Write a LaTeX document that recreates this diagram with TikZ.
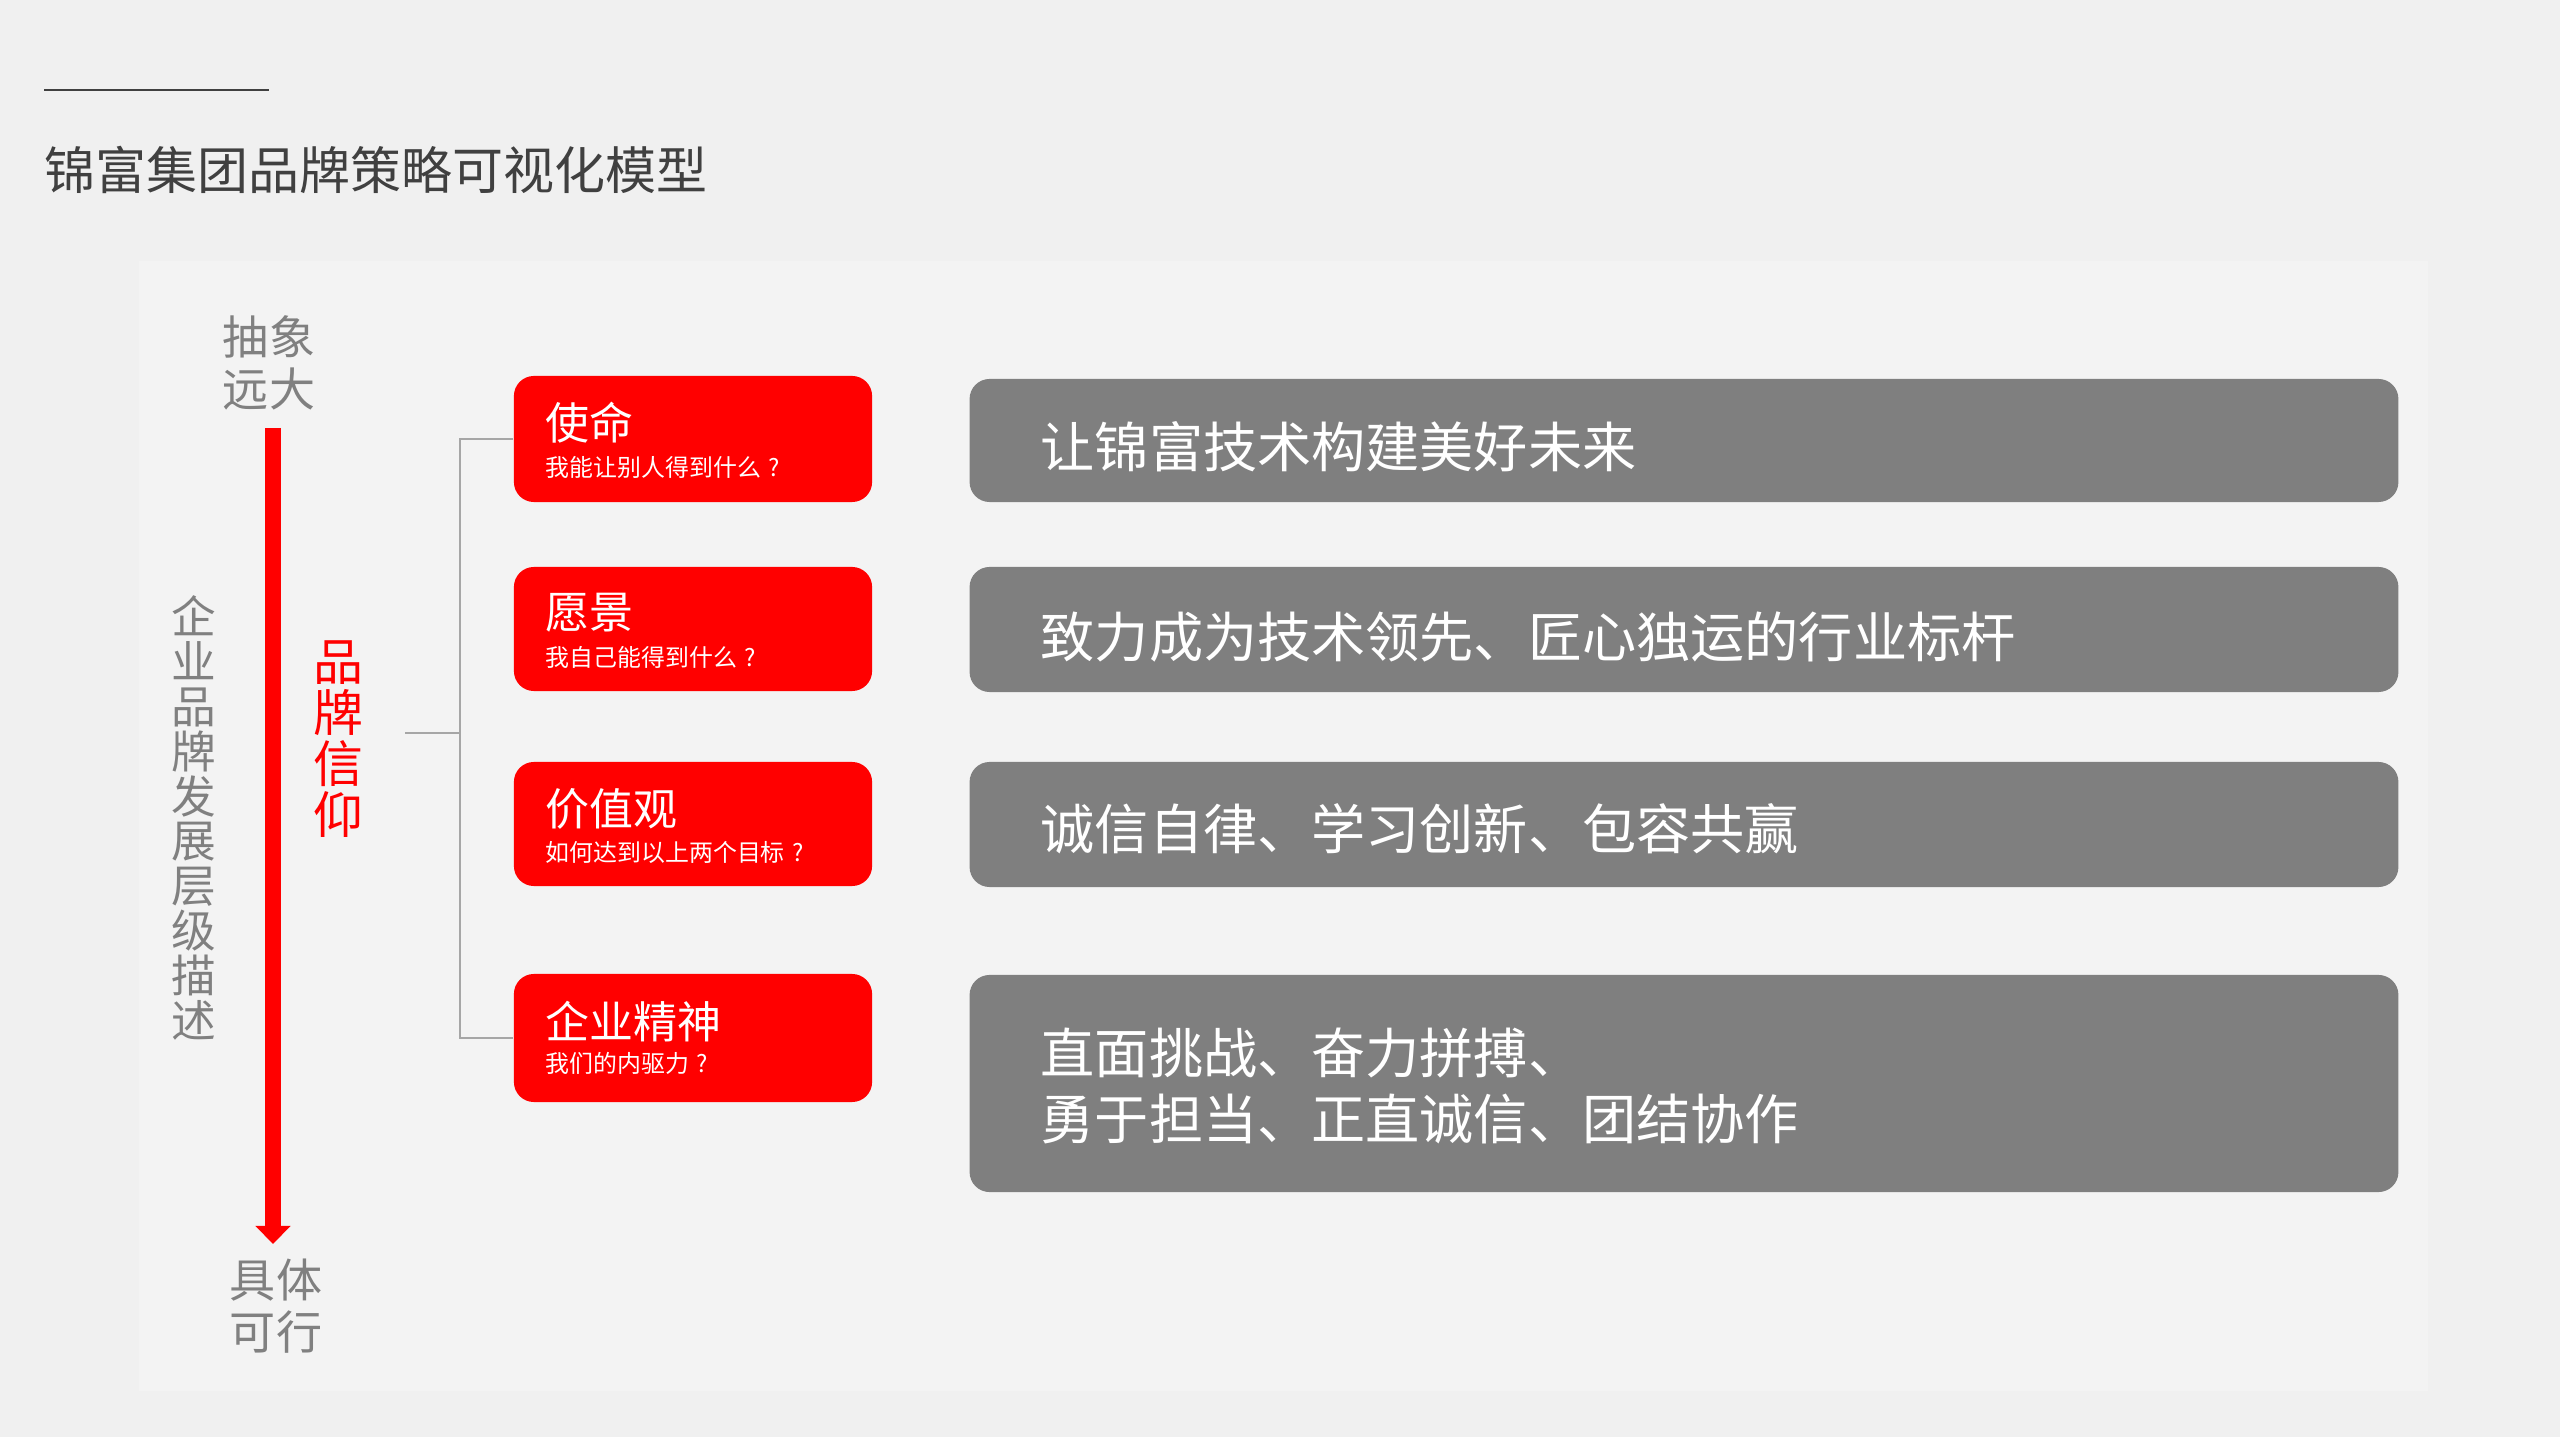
\documentclass[tikz,border=0pt]{standalone}
\usepackage{fontspec}
\setmainfont{Noto Sans CJK SC}
\usetikzlibrary{arrows.meta}
\definecolor{bgc}{HTML}{F0F0F0}
\definecolor{panelc}{HTML}{F3F3F3}
\definecolor{redc}{HTML}{FF0000}
\definecolor{greyc}{HTML}{7F7F7F}
\definecolor{labelc}{HTML}{808080}
\definecolor{titlec}{HTML}{404040}
\definecolor{linec}{HTML}{A6A6A6}
\newcommand{\fsz}[2]{\fontsize{#1}{#2}\selectfont}
\newcommand{\qm}{\kern0.3em?}
\begin{document}
\begin{tikzpicture}[x=0.01cm,y=-0.01cm,
  redbox/.style={rectangle, rounded corners=0.2cm, fill=redc, draw=none, minimum width=3.58cm, inner sep=0},
  greybox/.style={rectangle, rounded corners=0.2cm, fill=greyc, draw=none, minimum width=14.28cm, inner sep=0},
  rtitle/.style={anchor=west, inner sep=0, text=white, font=\fsz{12.5pt}{14pt}},
  rsub/.style={anchor=west, inner sep=0, text=white, font=\fsz{6.8pt}{8pt}},
  gtext/.style={anchor=west, inner sep=0, text=white, align=left, font=\fsz{15.4pt}{18.5pt}},
  sidelabel/.style={inner sep=0, text=labelc, align=center, font=\fsz{13.1pt}{14.8pt}},
  vlabel/.style={inner sep=0, text=labelc, align=center, font=\fsz{12.7pt}{12.75pt}},
  vred/.style={inner sep=0, text=redc, align=center, font=\fsz{14.2pt}{14.5pt}},
  brline/.style={draw=linec, line width=0.02cm},
  ttl/.style={anchor=west, inner sep=0, text=titlec, font=\fsz{14.5pt}{16pt}}
]
\useasboundingbox (0,0) rectangle (2560,1437);
\fill[bgc] (0,0) rectangle (2560,1437);
\fill[panelc] (139,261) rectangle (2428,1391);

% header
\coordinate (hl0) at (44,90);
\coordinate (hl1) at (269,90);
\draw[titlec, line width=0.02cm] (hl0) -- (hl1);
\node[ttl] (title) at (44,170) {锦富集团品牌策略可视化模型};

% left side
\node[sidelabel] (top) at (269,363) {抽象\\远大};
\node[sidelabel] (bot) at (276,1306) {具体\\可行};
\coordinate (a0) at (273,428);
\coordinate (a1) at (273,1244);
\draw[redc, line width=0.16cm, -{Triangle[width=0.34cm,length=0.18cm]}] (a0) -- (a1);
\node[vlabel] (desc) at (194,818) {企\\业\\品\\牌\\发\\展\\层\\级\\描\\述};
\node[vred] (belief) at (338,739) {品\\牌\\信\\仰};

% red boxes
\node[redbox, minimum height=1.26cm] (rb1) at (693,439) {};
\node[redbox, minimum height=1.24cm] (rb2) at (693,629) {};
\node[redbox, minimum height=1.24cm] (rb3) at (693,824) {};
\node[redbox, minimum height=1.28cm] (rb4) at (693,1038) {};

\node[rtitle] (rt1) at (545,423) {使命};
\node[rsub] (rs1) at (545,467) {我能让别人得到什么\qm};
\node[rtitle] (rt2) at (545,613) {愿景};
\node[rsub] (rs2) at (545,657) {我自己能得到什么\qm};
\node[rtitle] (rt3) at (545,809) {价值观};
\node[rsub] (rs3) at (545,852) {如何达到以上两个目标\qm};
\node[rtitle] (rt4) at (545,1022) {企业精神};
\node[rsub] (rs4) at (545,1063) {我们的内驱力\qm};

% bracket
\coordinate (jn) at (460,733);
\coordinate (stub) at (405,733);
\draw[brline] (rb1.west) -| (jn) |- (rb4.west);
\draw[brline] (stub) -- (jn);

% grey boxes
\node[greybox, minimum height=1.23cm] (gb1) at (1684,440.5) {};
\node[greybox, minimum height=1.25cm] (gb2) at (1684,629.5) {};
\node[greybox, minimum height=1.25cm] (gb3) at (1684,824.5) {};
\node[greybox, minimum height=2.17cm] (gb4) at (1684,1083.5) {};

\node[gtext] (gt1) at (1040,447) {让锦富技术构建美好未来};
\node[gtext] (gt2) at (1040,637) {致力成为技术领先、匠心独运的行业标杆};
\node[gtext] (gt3) at (1040,829) {诚信自律、学习创新、包容共赢};
\node[gtext] (gt4) at (1040,1086) {直面挑战、奋力拼搏、\\勇于担当、正直诚信、团结协作};
\end{tikzpicture}
\end{document}
